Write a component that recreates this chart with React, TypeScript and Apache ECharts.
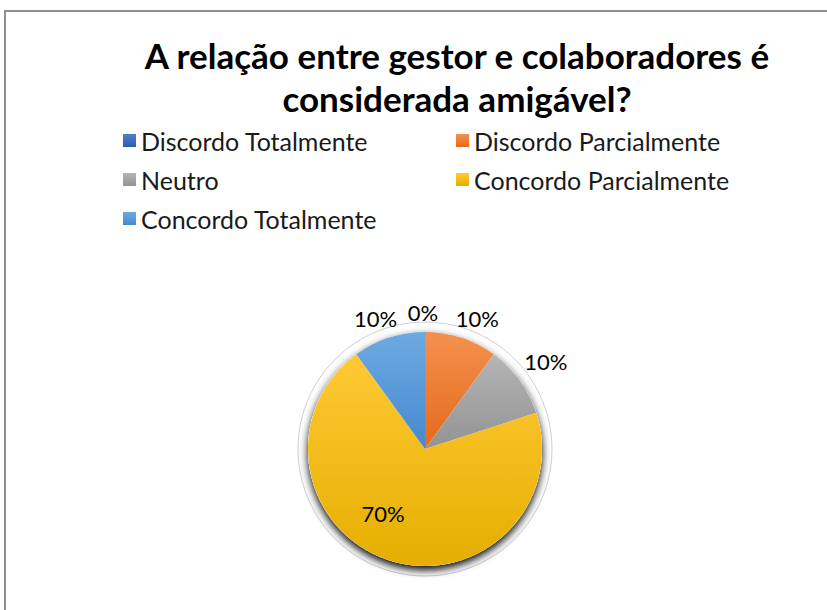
import React, { useEffect, useRef } from "react";
import * as echarts from "echarts";

const titleText = "A relação entre gestor e colaboradores é\nconsiderada amigável?";
const categories = [
  "Discordo Totalmente",
  "Discordo Parcialmente",
  "Neutro",
  "Concordo Parcialmente",
  "Concordo Totalmente",
];
const percentValues = [0, 10, 10, 70, 10];
const colorTops = ["#4E7FD6", "#F4914F", "#B5B5B5", "#FFC935", "#6DAAE0"];
const colorBottoms = ["#2E5CB0", "#E36A1A", "#939393", "#E5AE00", "#4689D0"];
const legendLeftCol = ["Discordo Totalmente", "Neutro", "Concordo Totalmente"];
const legendRightCol = ["Discordo Parcialmente", "Concordo Parcialmente"];
// small style nudges for label placement (px)
const labelNudgeX = [-2, 10, 10, -23, -7];
const labelNudgeY = [0, 0, -7, 6, 0];

const FONT = "Lato";

export default function App() {
  const ref = useRef<HTMLDivElement>(null);
  useEffect(() => {
    if (!ref.current) return;
    const chart = echarts.init(ref.current, undefined, { renderer: "svg" });
    const grad = (i: number) =>
      new echarts.graphic.LinearGradient(0, 0, 0, 1, [
        { offset: 0, color: colorTops[i] },
        { offset: 1, color: colorBottoms[i] },
      ]);
    const center = [425, 449];
    const legendCommon = {
      orient: "vertical" as const,
      top: 123,
      icon: "rect",
      itemWidth: 13,
      itemHeight: 13,
      itemGap: 14,
      selectedMode: false,
      textStyle: { fontSize: 25, fontFamily: FONT, color: "#1a1a1a" },
    };
    chart.setOption({
      animation: false,
      backgroundColor: "#ffffff",
      title: {
        text: titleText,
        left: 457,
        textAlign: "center",
        top: 33,
        padding: 0,
        textStyle: {
          fontSize: 35,
          fontWeight: "bold",
          fontFamily: FONT,
          color: "#000000",
          lineHeight: 43,
        },
      },
      legend: [
        { ...legendCommon, left: 118, data: legendLeftCol },
        { ...legendCommon, left: 451, data: legendRightCol },
      ],
      graphic: [
        {
          type: "rect",
          shape: { x: 5, y: 11, width: 840, height: 620 },
          style: { fill: "none", stroke: "#8f8f8f", lineWidth: 2 },
          silent: true,
        },
      ],
      series: [
        {
          type: "pie",
          silent: true,
          center,
          radius: 127,
          label: { show: false },
          labelLine: { show: false },
          data: [
            {
              value: 1,
              name: "",
              itemStyle: { color: "#ffffff", borderColor: "#cfcfcf", borderWidth: 1 },
            },
          ],
          z: 1,
        },
        {
          type: "pie",
          silent: true,
          center,
          radius: 117,
          label: { show: false },
          labelLine: { show: false },
          data: [
            {
              value: 1,
              name: "",
              itemStyle: {
                color: "#ffffff",
                shadowBlur: 9,
                shadowColor: "rgba(0,0,0,1)",
                shadowOffsetY: 4,
              },
            },
          ],
          z: 2,
        },
        {
          type: "pie",
          center,
          radius: 117,
          startAngle: 90,
          clockwise: true,
          avoidLabelOverlap: false,
          percentPrecision: 0,
          z: 3,
          label: {
            show: true,
            position: "outside",
            formatter: "{d}%",
            fontSize: 22,
            fontFamily: FONT,
            color: "#000000",
            distanceToLabelLine: 0,
          },
          labelLine: { show: false, length: 20, length2: 0 },
          labelLayout: (params: any) => {
            const i = params.dataIndex;
            const base: any = { dx: labelNudgeX[i], dy: labelNudgeY[i] };
            if (i !== 3) base.align = "center";
            return base;
          },
          data: categories.map((name, i) => ({
            name,
            value: percentValues[i],
            itemStyle: { color: grad(i) },
            label: i === 3 ? { position: "inside" } : undefined,
          })),
        },
      ],
    });
    return () => chart.dispose();
  }, []);
  return (
    <div
      ref={ref}
      style={{ position: "absolute", left: 0, top: 0, width: 827, height: 610 }}
    />
  );
}
